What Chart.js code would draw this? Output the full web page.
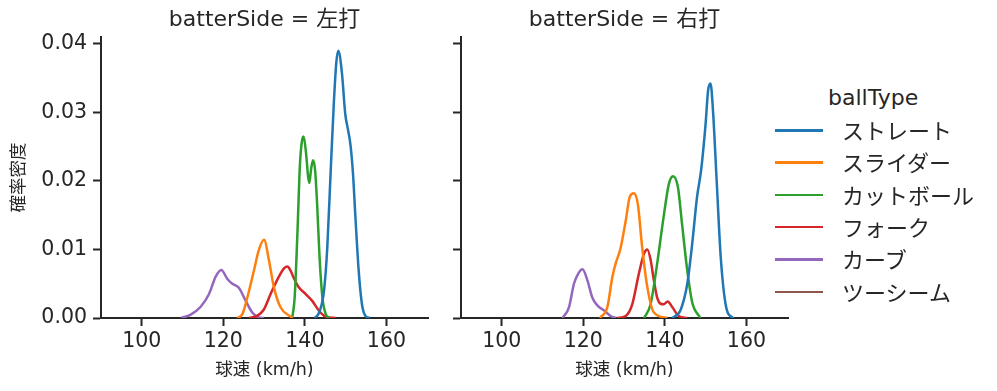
<!DOCTYPE html>
<html>
<head>
<meta charset="utf-8">
<script src="https://cdn.jsdelivr.net/npm/chart.js@4"></script>
<style>
  body { margin: 0; background: #fff; width: 997px; height: 391px; overflow: hidden; position: relative;
         font-family: "DejaVu Sans", "Noto Sans CJK JP", sans-serif; color: #262626; }
  .panel { position: absolute; top: 0; width: 440px; height: 391px; }
  #legend { position: absolute; left: 0; top: 0; }
  .lg-title { position: absolute; left: 828px; top: 84px; font-size: 22px; line-height: 28px; white-space: nowrap; }
  .lg-row { position: absolute; left: 775px; height: 28px; white-space: nowrap; }
  .lg-line { position: absolute; left: 0; top: 14px; width: 48px; height: 2.5px; }
  .lg-text { position: absolute; left: 67px; top: 0; font-size: 22px; line-height: 28px; font-family: "Noto Sans CJK JP", sans-serif; }
</style>
</head>
<body>
<canvas id="left" class="panel" style="left:0" width="440" height="391"></canvas>
<canvas id="right" class="panel" style="left:360px" width="440" height="391"></canvas>
<div id="legend"></div>
<script>
const ballTypes = ['ストレート', 'スライダー', 'カットボール', 'フォーク', 'カーブ', 'ツーシーム'];
const colors = ['#1f77b4', '#ff7f0e', '#2ca02c', '#d62728', '#9467bd', '#8c564b'];
const xTicks = [100, 120, 140, 160];
const yTicks = [0, 0.01, 0.02, 0.03, 0.04];

// 左打
const leftStraightX = [142.4, 143.5, 144.7, 145.5, 146.3, 147.1, 147.7, 148.2, 149.1, 149.9, 150.6, 151.2, 151.8, 152.4, 153.2, 154.0, 155.0, 156.0];
const leftStraightY = [0, 0.0008, 0.004, 0.0103, 0.021, 0.0313, 0.0372, 0.039, 0.0357, 0.0298, 0.0274, 0.0252, 0.0211, 0.0147, 0.0069, 0.002, 0.0002, 0];
const leftSliderX = [123.4, 124.7, 125.9, 127.5, 128.7, 130.0, 131.2, 132.4, 134.0, 136.5, 137.0];
const leftSliderY = [0, 0.0006, 0.003, 0.0069, 0.0099, 0.0114, 0.0084, 0.0045, 0.0016, 0.0002, 0];
const leftCutX = [136.9, 137.5, 138.2, 138.8, 139.4, 139.7, 140.3, 140.8, 141.1, 141.5, 142.0, 142.5, 143.0, 143.6, 144.3, 145.1, 146.0];
const leftCutY = [0, 0.003, 0.0128, 0.0225, 0.0262, 0.0265, 0.024, 0.0206, 0.0197, 0.0216, 0.023, 0.0216, 0.0167, 0.0089, 0.003, 0.0006, 0];
const leftForkX = [126.3, 128.3, 129.9, 131.6, 133.6, 135.0, 135.7, 136.5, 137.3, 138.5, 140.2, 141.8, 143.4, 145.1, 147.5];
const leftForkY = [0, 0.0003, 0.0012, 0.0035, 0.006, 0.0073, 0.0075, 0.0069, 0.0058, 0.0045, 0.0035, 0.0025, 0.0011, 0.0002, 0];
const leftCurveX = [109.6, 112.0, 114.4, 116.5, 118.1, 119.5, 121.0, 122.2, 123.8, 125.5, 127.1, 128.7, 130.0];
const leftCurveY = [0, 0.0005, 0.0016, 0.0035, 0.006, 0.007, 0.0057, 0.005, 0.0044, 0.0025, 0.0008, 0.0001, 0];

// 右打
const rightStraightX = [141.8, 143.8, 145.5, 146.7, 147.9, 148.9, 150.0, 150.6, 151.2, 151.8, 152.7, 153.7, 154.9, 156.5, 157.0];
const rightStraightY = [0, 0.0011, 0.005, 0.0108, 0.0177, 0.0216, 0.0284, 0.0332, 0.0342, 0.0303, 0.0201, 0.0089, 0.002, 0.0001, 0];
const rightSliderX = [124.1, 125.9, 127.1, 127.9, 129.1, 130.4, 131.4, 132.4, 133.4, 134.4, 135.7, 137.3, 140.6];
const rightSliderY = [0, 0.0016, 0.0059, 0.0079, 0.0101, 0.0142, 0.0177, 0.0182, 0.0165, 0.0105, 0.0045, 0.0008, 0];
const rightCutX = [134.9, 136.5, 138.1, 139.8, 141.0, 142.0, 143.2, 144.2, 145.5, 146.7, 148.7];
const rightCutY = [0, 0.002, 0.0079, 0.0152, 0.0196, 0.0207, 0.0191, 0.0138, 0.0069, 0.0023, 0];
const rightForkX = [128.3, 130.4, 132.0, 133.6, 134.9, 135.7, 136.5, 137.3, 138.1, 138.9, 139.7, 140.7, 141.8, 143.4, 145.5];
const rightForkY = [0, 0.0003, 0.002, 0.0064, 0.0094, 0.0100, 0.0085, 0.0055, 0.003, 0.0021, 0.002, 0.0024, 0.0016, 0.0003, 0];
const rightCurveX = [114.9, 116.5, 117.7, 118.7, 119.8, 121.0, 122.2, 123.5, 125.1, 126.7, 128.0];
const rightCurveY = [0, 0.0016, 0.005, 0.0064, 0.0071, 0.0055, 0.003, 0.0018, 0.0011, 0.0003, 0];

const leftSeries = [
  [leftStraightX, leftStraightY], [leftSliderX, leftSliderY], [leftCutX, leftCutY],
  [leftForkX, leftForkY], [leftCurveX, leftCurveY], [[], []]
];
const rightSeries = [
  [rightStraightX, rightStraightY], [rightSliderX, rightSliderY], [rightCutX, rightCutY],
  [rightForkX, rightForkY], [rightCurveX, rightCurveY], [[], []]
];

const ink = '#262626';
const fontFamily = '"DejaVu Sans", "Noto Sans CJK JP", sans-serif';
const cjkFamily = '"Noto Sans CJK JP", sans-serif';

function makePanel(id, title, series, showYLabels) {
  const datasets = series.map(([xs, ys], i) => ({
    label: ballTypes[i],
    data: xs.map((x, j) => ({ x: x, y: ys[j] })),
    borderColor: colors[i],
    borderWidth: 2.5,
    pointRadius: 0,
    fill: false,
    cubicInterpolationMode: 'monotone'
  }));

  new Chart(document.getElementById(id), {
    type: 'line',
    data: { datasets },
    options: {
      responsive: false,
      devicePixelRatio: 1,
      animation: false,
      layout: { padding: { left: 0, right: 12, top: 0, bottom: 0 } },
      plugins: {
        legend: { display: false },
        tooltip: { enabled: false },
        title: {
          display: true,
          text: title,
          fullSize: false,
          color: ink,
          font: { family: fontFamily, size: 22, weight: 'normal', lineHeight: 1.1 },
          padding: { top: 8, bottom: 4.8 }
        }
      },
      scales: {
        x: {
          type: 'linear',
          min: 90,
          max: 170.2,
          afterBuildTicks: s => { s.ticks = xTicks.map(v => ({ value: v })); },
          afterFit: s => { s.height = 73; },
          ticks: { color: ink, font: { family: fontFamily, size: 20.5 }, padding: 3, maxRotation: 0 },
          grid: { drawOnChartArea: false, drawTicks: true, tickLength: 8, tickWidth: 2, tickColor: ink },
          border: { display: true, color: ink, width: 2 },
          title: { display: true, text: '球速 (km/h)', color: ink, font: { family: fontFamily, size: 17.5 }, padding: { top: 0, bottom: 10 } }
        },
        y: {
          type: 'linear',
          min: 0,
          max: 0.041,
          afterBuildTicks: s => { s.ticks = yTicks.map(v => ({ value: v })); },
          afterFit: s => { s.width = 101; },
          ticks: {
            color: ink,
            font: { family: fontFamily, size: 20.5 },
            padding: 6,
            callback: v => showYLabels ? v.toFixed(2) : ''
          },
          grid: { drawOnChartArea: false, drawTicks: true, tickLength: 8, tickWidth: 2, tickColor: ink },
          border: { display: true, color: ink, width: 2 },
          title: { display: showYLabels, text: '確率密度', color: ink, font: { family: cjkFamily, size: 17.5 }, padding: { top: 7, bottom: 0 } }
        }
      }
    }
  });
}

makePanel('left', 'batterSide = 左打', leftSeries, true);
makePanel('right', 'batterSide = 右打', rightSeries, false);

// legend
const legend = document.getElementById('legend');
let html = '<div class="lg-title">ballType</div>';
ballTypes.forEach((name, i) => {
  const top = 115 + i * 32.3;
  html += `<div class="lg-row" style="top:${top}px"><div class="lg-line" style="background:${colors[i]}"></div><div class="lg-text">${name}</div></div>`;
});
legend.innerHTML = html;
</script>
</body>
</html>
